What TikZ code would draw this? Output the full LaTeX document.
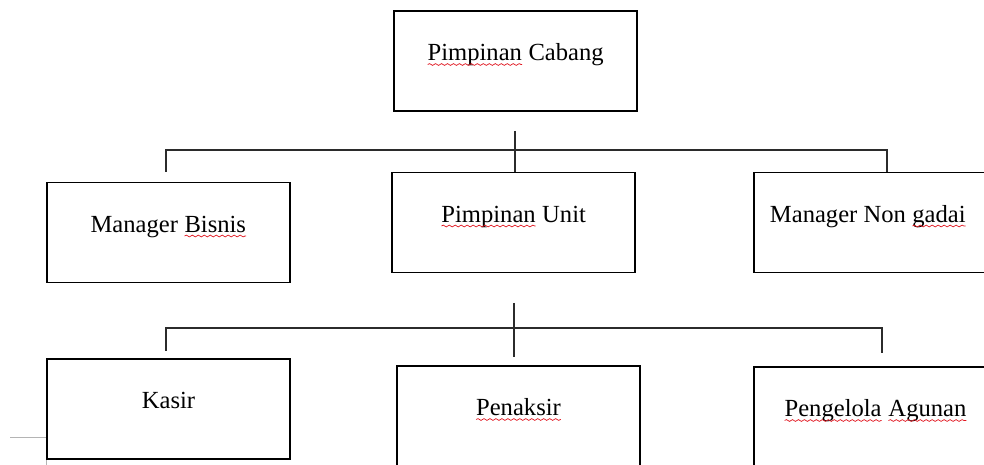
\documentclass[tikz,border=0pt]{standalone}
\usepackage{fontspec}
\setmainfont{Liberation Serif}
\usepackage{xcolor}
\usetikzlibrary{positioning, decorations.pathmorphing}
\definecolor{LineGray}{HTML}{2B2B2B}
\definecolor{SpellRed}{HTML}{E0141E}
\definecolor{MarginGray}{HTML}{B4B4B4}
\newcommand{\spellwave}[1]{\tikz[baseline=(spw.base)]{%
  \node[draw=none, minimum size=0pt, inner sep=0pt, outer sep=0pt, text height=, text depth=] (spw) {#1};
  \draw[SpellRed, line width=0.4pt, decorate,
        decoration={snake, amplitude=0.5pt, segment length=3.4pt}]
    ([yshift=-2pt]spw.base west) -- ([yshift=-2pt]spw.base east);}}

\begin{document}
\begin{tikzpicture}[x=0.02cm, y=-0.02cm,
  orgbox/.style={draw=black, line width=1.1pt, minimum width=4.86cm, minimum height=2cm,
                 inner sep=0pt, text height=0pt, text depth=0pt, font=\fontsize{14}{17}\selectfont},
  bus/.style={draw=LineGray, line width=0.6pt}]
  \useasboundingbox (0,0) rectangle (984,465);
  \foreach \name/\cx/\cy/\txt in {
    cabang/515.5/61/{\spellwave{Pimpinan} Cabang},
    bisnis/168.5/232.5/{Manager \spellwave{Bisnis}},
    unit/513.5/222.5/{\spellwave{Pimpinan} Unit},
    nongadai/875.5/222.5/{Manager Non \spellwave{gadai}\kern0.3cm},
    kasir/168.5/409/{Kasir},
    penaksir/518.5/416/{\spellwave{Penaksir}},
    agunan/875.5/417/{\spellwave{Pengelola} \spellwave{Agunan}}
  }{
    \node[orgbox] (\name) at (\cx,\cy) {\txt};
  }
  \coordinate (hubA) at (515,131);
  \coordinate (legA1) at (166,172);
  \coordinate (legA3) at (887,172);
  \draw[bus] (hubA) -- (hubA |- unit.north);
  \draw[bus] (legA1) -- ++(0,-22) -| (legA3);
  \coordinate (hubB) at (514,303);
  \coordinate (legB1) at (166,351);
  \coordinate (legB3) at (882,353);
  \draw[bus] (hubB) -- ++(0,54);
  \draw[bus] (legB1) -- ++(0,-23) -| (legB3);
  \coordinate (margin) at (10,437);
  \draw[MarginGray, line width=0.5pt] (margin) -- (margin -| kasir.west);
  \draw[MarginGray, line width=0.5pt] (kasir.south west) -- ++(0,8);
\end{tikzpicture}
\end{document}
